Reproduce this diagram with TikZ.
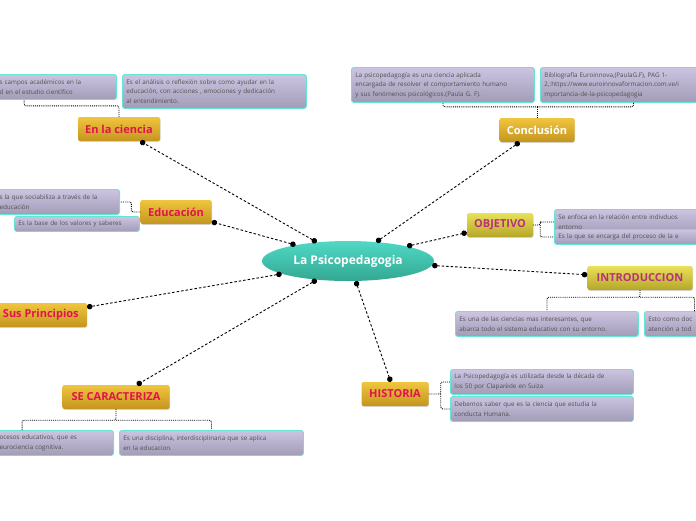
\documentclass[tikz,border=0pt]{standalone}
\usepackage{fontspec}
\setmainfont{Open Sans}
\usetikzlibrary{arrows.meta}
\usetikzlibrary{shapes.geometric}
\usetikzlibrary{shadows}
\definecolor{tealtop}{HTML}{4FD9C6}
\definecolor{tealbot}{HTML}{33A791}
\definecolor{goldtop}{HTML}{F0C53E}
\definecolor{goldbot}{HTML}{C4951F}
\definecolor{olivetop}{HTML}{E9E15A}
\definecolor{olivebot}{HTML}{B5A629}
\definecolor{topicred}{HTML}{E2124F}
\definecolor{topicpink}{HTML}{B8307A}
\definecolor{leaftop}{HTML}{CCC4E1}
\definecolor{leafbot}{HTML}{A29CB7}
\definecolor{leafline}{HTML}{66E4D4}
\definecolor{leaftext}{HTML}{505050}

\begin{document}
\begin{tikzpicture}[x=1pt,y=-1pt,
	every node/.style={font=\fontsize{11}{13}\selectfont\bfseries},
	central/.style={ellipse,top color=tealtop,bottom color=tealbot,text=white,
		minimum width=172pt,minimum height=40pt,inner sep=0pt,
		font=\fontsize{12}{14}\selectfont\bfseries},
	topic/.style={rectangle,rounded corners=2pt,top color=goldtop,bottom color=goldbot,
		text=topicred,minimum height=24pt,inner sep=0pt,
		drop shadow={shadow xshift=.6pt,shadow yshift=-.8pt,opacity=.3}},
	olive/.style={topic,top color=olivetop,bottom color=olivebot,text=topicpink},
	leaf/.style={rectangle,rounded corners=2.5pt,draw=leafline,line width=.9pt,
		top color=leaftop,bottom color=leafbot,text=leaftext,align=left,
		anchor=north west,inner xsep=4pt,inner ysep=2pt,text width=#1,
		font=\fontsize{6.3}{9.5}\selectfont},
	link/.style={draw=black,line width=.9pt,dash pattern=on 2.5pt off 2pt,
		{Circle[length=5.5pt]}-{Circle[length=5.5pt]}},
	bracket/.style={draw=black,line width=.9pt,densely dotted,rounded corners=2pt}]
	
	\useasboundingbox (0,0) rectangle (696,520);
	
	% leaves
	\node[leaf=113pt,anchor=north east,minimum height=25pt] (sci1) at (117,74)
		{s campos académicos  en la\\d  en el estudio científico};
	\node[leaf=176pt,minimum height=34pt] (sci2) at (122,74)
		{Es el análisis  o reflexión sobre como ayudar en la\\educación, con acciones , emociones y dedicación\\al entendimiento.};
	\node[leaf=175pt,minimum height=35pt] (con1) at (351,67)
		{La psicopedagogía es una ciencia aplicada\\encargada de resolver el comportamiento humano\\y sus fenómenos psicológicos.(Paula G. F).};
	\node[leaf=178pt,minimum height=35pt] (con2) at (540,67)
		{Bibliografía Euroinnova,(PaulaG.F), PAG 1-\\2,:https://www.euroinnovaformacion.com.ve/i\\mportancia-de-la-psicopedagogia};
	\node[leaf=116pt,anchor=north east,minimum height=25pt] (edu1) at (120,189)
		{s la que sociabiliza a través de la\\educación};
	\node[leaf=117pt,minimum height=15pt] (edu2) at (14,216)
		{Es la base  de los valores y saberes};
	\node[leaf=152pt,minimum height=25pt] (obj1) at (554,209)
		{Se enfoca en la relación entre indivduos\\entorno};
	\node[leaf=152pt,minimum height=15pt] (obj2) at (554,229)
		{Es  la que se encarga del proceso de la e};
	\node[leaf=175pt,minimum height=25pt] (int1) at (455,311)
		{Es una de las ciencias mas interesantes, que\\abarca todo el sistema educativo con su entorno.};
	\node[leaf=92pt,minimum height=25pt] (int2) at (644,311)
		{Esto como doc\\atención a tod};
	\node[leaf=110pt,anchor=north east,minimum height=25pt] (car1) at (114,430)
		{ocesos educativos, que es\\eurociencia cognitiva.};
	\node[leaf=176pt,minimum height=25pt] (car2) at (119,430)
		{Es una disciplina, interdisciplinaria que se aplica\\en la educacion.};
	\node[leaf=175pt,minimum height=25pt] (his1) at (450,369)
		{La Psicopedagogía es utilizada desde la década de\\los 50 por Claparède en Suiza};
	\node[leaf=175pt,minimum height=25pt] (his2) at (450,396)
		{Debemos saber que  es la ciencia que estudia la\\conducta Humana.};
	
	% topics
	\node[central] (psy) at (348,261) {La Psicopedagogia};
	\node[topic,minimum width=82pt] (ciencia) at (119,129) {En la ciencia};
	\node[topic,text=white,minimum width=75pt] (conc) at (537,130) {Conclusión};
	\node[topic,minimum width=71pt] (educ) at (176,212) {Educación};
	\node[olive,minimum width=66pt] (objet) at (500,225) {OBJETIVO};
	\node[olive,minimum width=105pt] (intro) at (640,278) {INTRODUCCION};
	\node[topic,anchor=east,minimum width=92pt] (princ) at (87,315) {Sus Principios};
	\node[topic,minimum width=107pt] (carac) at (116,397) {SE CARACTERIZA};
	\node[topic,minimum width=67pt] (hist) at (395,394) {HISTORIA};
	
	\draw[bracket] (ciencia.north) -- ++(0,-11) -| ([xshift=29pt]sci1.south west);
	\draw[bracket] (con1.south) -- ++(0,4) -| (con2.south);
	\draw[bracket] (conc.north) -- ++(0,-12);
	\draw[bracket] (educ.west) -- ++(-9,0) |- (edu1.east);
	\draw[bracket] (objet.east) -- ++(7,0) |- (obj1.west) (objet.east) ++(7,0) |- (obj2.west);
	\draw[bracket] (intro.south) -- ++(0,7) -| (int1.north) (intro.south) ++(0,7) -| (int2.north);
	\draw[bracket] (carac.south) -- ++(0,11) -| ([xshift=27pt]car1.north west) (carac.south) ++(0,11) -| (car2.north);
	\draw[bracket] (hist.east) -- ++(12,0) |- (his1.west) (hist.east) ++(12,0) |- (his2.west);
	
	\draw[link] (psy.149) -- (ciencia);
	\draw[link] (psy.163) -- (educ);
	\draw[link] (psy.34) -- (conc);
	\draw[link] (psy.14) -- (objet);
	\draw[link] (psy.-3) -- (intro);
	\draw[link] (psy.191) -- (princ);
	\draw[link] (psy.211) -- (carac);
	\draw[link] (psy.291) -- (hist);
\end{tikzpicture}
\end{document}
